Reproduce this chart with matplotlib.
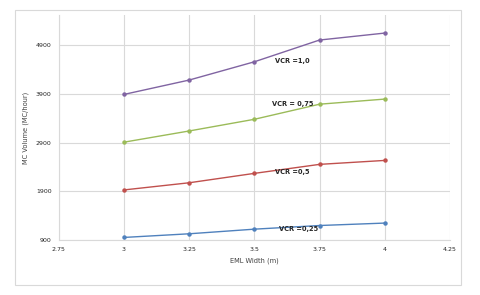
import matplotlib
matplotlib.use('Agg')
import matplotlib.pyplot as plt
from matplotlib.patches import Rectangle

# data
widths = [3, 3.25, 3.5, 3.75, 4]
vcr_025 = [955, 1030, 1125, 1200, 1250]
vcr_05 = [1930, 2077, 2270, 2455, 2536]
vcr_075 = [2910, 3140, 3380, 3690, 3795]
vcr_10 = [3890, 4185, 4560, 5007, 5150]
series_labels = ['VCR =0,25', 'VCR =0,5', 'VCR = 0,75', 'VCR =1,0']
label_pos = [(3.668, 1126), (3.645, 2296), (3.649, 3693), (3.645, 4576)]
x_ticks = [2.75, 3, 3.25, 3.5, 3.75, 4, 4.25]
y_ticks = [900, 1900, 2900, 3900, 4900]

colors = ['#4F81BD', '#C0504D', '#9BBB59', '#8064A2']
GRID = '#D9D9D9'

fig = plt.figure(figsize=(4.8, 2.95), dpi=100)
fig.patch.set_facecolor('white')
ax = fig.add_axes([0.122, 0.186, 0.8155, 0.763])

# chart border
fig.add_artist(Rectangle((15 / 480, 1 - 285 / 295), 446 / 480, 275 / 295,
                         transform=fig.transFigure, fill=False,
                         edgecolor=GRID, lw=0.8))

for ys, c in zip([vcr_025, vcr_05, vcr_075, vcr_10], colors):
    ax.plot(widths, ys, color=c, lw=1.0, marker='o', ms=2.2, zorder=3)

for (lx, ly), lab in zip(label_pos, series_labels):
    ax.text(lx, ly, lab, ha='center', va='center', fontsize=4.8,
            fontweight='bold', color='#262626', zorder=4)

ax.set_xlim(2.75, 4.25)
ax.set_ylim(900, 5520)
ax.set_xticks(x_ticks)
ax.set_xticklabels([f'{v:g}' for v in x_ticks])
ax.set_yticks(y_ticks)
ax.grid(True, color=GRID, lw=0.8)
ax.set_axisbelow(True)
for s in ['top', 'right']:
    ax.spines[s].set_visible(False)
for s in ['left', 'bottom']:
    ax.spines[s].set_color(GRID)
    ax.spines[s].set_linewidth(0.8)
ax.tick_params(length=0, labelsize=4.5, colors='#262626', pad=5)

ax.set_xlabel('EML Width (m)', fontsize=4.8, color='#404040', labelpad=4)
ax.set_ylabel('MC Volume (MC/hour)', fontsize=4.8, color='#404040', labelpad=5)

plt.savefig('out.png', dpi=100, facecolor='white')
